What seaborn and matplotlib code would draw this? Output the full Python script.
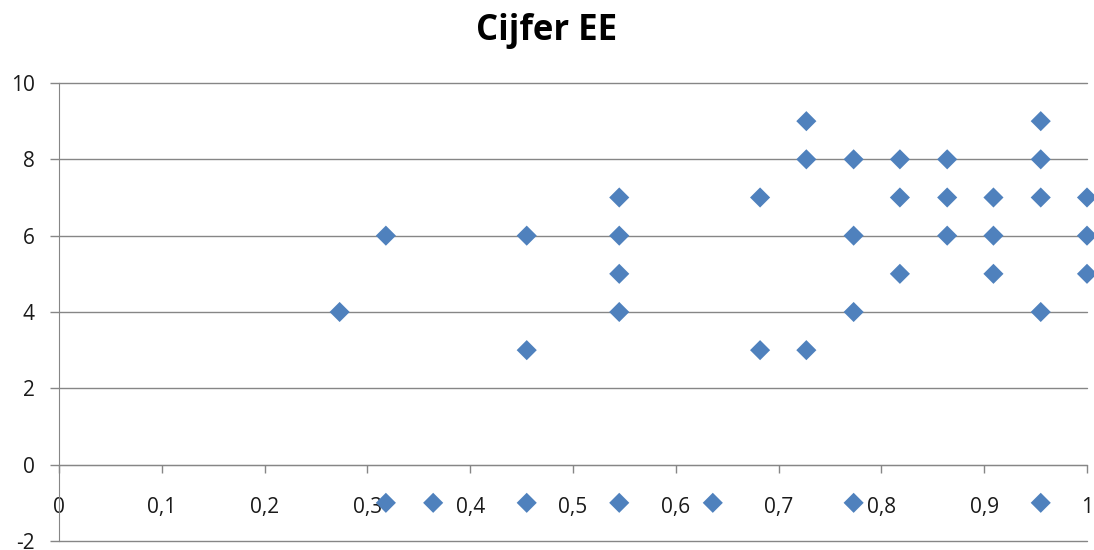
import pandas as pd
import seaborn as sns
import matplotlib.pyplot as plt
from matplotlib.ticker import FuncFormatter, MultipleLocator

# x = fraction, y = cijfer (-1 = no grade)
frac = [0.273,
        0.318, 0.318,
        0.364,
        0.455, 0.455, 0.455,
        0.545, 0.545, 0.545, 0.545, 0.545,
        0.636,
        0.682, 0.682,
        0.727, 0.727, 0.727,
        0.773, 0.773, 0.773, 0.773,
        0.818, 0.818, 0.818,
        0.864, 0.864, 0.864,
        0.909, 0.909, 0.909,
        0.955, 0.955, 0.955, 0.955, 0.955,
        1.0, 1.0, 1.0]
cijfer = [4,
          6, -1,
          -1,
          6, 3, -1,
          7, 6, 5, 4, -1,
          -1,
          7, 3,
          9, 8, 3,
          8, 6, 4, -1,
          8, 7, 5,
          8, 7, 6,
          7, 6, 5,
          9, 8, 7, 4, -1,
          7, 6, 5]
title = "Cijfer EE"

df = pd.DataFrame({"frac": frac, "cijfer": cijfer})

sns.set_style("white")
plt.rcParams['font.family'] = ['Open Sans', 'DejaVu Sans']
plt.rcParams['axes.unicode_minus'] = False

fig = plt.figure(figsize=(10.94, 5.5), dpi=100)
ax = fig.add_axes([0.0539, 0.0164, 0.9397, 0.8327])

ax.yaxis.set_major_locator(MultipleLocator(2))
ax.grid(axis='y', color='#868686', linewidth=1)
ax.set_axisbelow(True)

sns.scatterplot(data=df, x="frac", y="cijfer", marker='D', s=105, color='#4F81BD',
                edgecolor='none', linewidth=0, ax=ax, clip_on=False, zorder=3)

ax.set_xlim(0, 1)
ax.set_ylim(-2, 10)
ax.set_xticks([i / 10 for i in range(11)])
ax.xaxis.set_major_formatter(FuncFormatter(lambda v, p: ('%g' % round(v, 1)).replace('.', ',')))

for gl in ax.get_ygridlines():
    gl.set_clip_on(False)

for s in ['top', 'right']:
    ax.spines[s].set_visible(False)
ax.spines['bottom'].set_position(('data', 0))
ax.spines['bottom'].set_color('#868686')
ax.spines['left'].set_color('#868686')

ax.tick_params(axis='x', direction='out', length=6, width=1, color='#868686', pad=17,
               labelsize=15, labelcolor='#1a1a1a', bottom=True)
ax.tick_params(axis='y', direction='out', length=6.5, width=1, color='#868686', pad=11,
               labelsize=15, labelcolor='#1a1a1a', left=True)

ax.set_xlabel('')
ax.set_ylabel('')
fig.suptitle(title, x=0.5, y=0.977, fontsize=25, fontweight='bold', color='black')

fig.savefig('out.png', dpi=100)
